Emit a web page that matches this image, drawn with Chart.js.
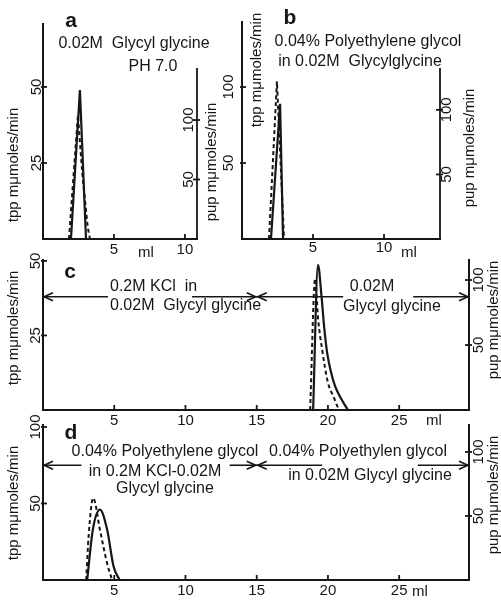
<!DOCTYPE html>
<html>
<head>
<meta charset="utf-8">
<script src="https://cdn.jsdelivr.net/npm/chart.js@4.4.0/dist/chart.umd.min.js"></script>
<style>
  html, body { margin: 0; padding: 0; background: #fff; }
  #wrap { position: relative; width: 501px; height: 601px; }
  #wrap canvas { position: absolute; left: 0; top: 0; }
</style>
</head>
<body>
<div id="wrap">
  <canvas id="pa" width="501" height="601"></canvas>
  <canvas id="pb" width="501" height="601"></canvas>
  <canvas id="pc" width="501" height="601"></canvas>
  <canvas id="pd" width="501" height="601"></canvas>
</div>
<script>
// a: 0.02M glycyl glycine, pH 7.0
const aTppMl = [1.97, 2.6, 3.03]
const aTpp = [0, 49, 0]
const aPupMl = [1.83, 2.46, 2.77, 3.15, 3.31]
const aPup = [0, 104, 55, 10, 0]
const aXTicks = [5, 10]
const aLeftTicks = [25, 50]
const aRightTicks = [50, 100]

// b: 0.04% polyethylene glycol in 0.02M glycyl glycine
const bTppMl = [2.04, 2.68, 2.89]
const bTpp = [0, 89, 0]
const bPupMl = [1.9, 2.46, 2.96]
const bPup = [0, 122, 0]
const bXTicks = [5, 10]
const bLeftTicks = [50, 100]
const bRightTicks = [50, 100]

// c: 0.2M KCl -> 0.02M glycyl glycine
const cTppMl = [18.96, 19.3, 19.55, 19.75, 19.95, 20.2, 20.5, 20.9, 21.4]
const cTpp = [0, 48.7, 38, 27, 19, 13, 8, 4, 0]
const cPupMl = [18.75, 19.1, 19.3, 19.6, 20.0, 20.4, 20.7, 20.85]
const cPup = [0, 101, 71, 46, 21, 10, 2, 0]
const cXTicks = [5, 10, 15, 20, 25]
const cLeftTicks = [25, 50]
const cRightTicks = [50, 100]

// d: polyethylene glycol in KCl -> in glycyl glycine
const dTppMl = [3.1, 3.5, 4.0, 4.5, 4.95, 5.37]
const dTpp = [0, 33, 46, 33, 9, 0]
const dPupMl = [3.03, 3.2, 3.52, 4.0, 4.5, 4.85]
const dPup = [0, 34, 64, 39, 13, 0]
const dXTicks = [5, 10, 15, 20, 25]
const dLeftTicks = [50, 100]
const dRightTicks = [50, 100]

const INK = "#161616"
const FONT = "'Liberation Sans', Arial, sans-serif"

const panels = [
  {
    id: "pa", area: { l: 43, r: 197, t: 24, b: 239 }, xMax: 10.85, lMax: 70.7, rMax: 180.7, rTop: 68,
    tppMl: aTppMl, tpp: aTpp, pupMl: aPupMl, pup: aPup, smooth: false,
    xTicks: aXTicks, lTicks: aLeftTicks, rTicks: aRightTicks,
    xLabY: 250, lLabX: 37, rLabX: 189,
    lTitle: [14, 165], rTitle: [212, 162], ml: [146, 253],
    texts: [
      { t: "a", x: 71, y: 21, f: "bold 21px" },
      { t: "0.02M  Glycyl glycine", x: 134, y: 44 },
      { t: "PH 7.0", x: 153, y: 67 },
    ],
  },
  {
    id: "pb", area: { l: 242, r: 440, t: 22, b: 239 }, xMax: 13.94, lMax: 142.8, rMax: 168, rTop: 68,
    tppMl: bTppMl, tpp: bTpp, pupMl: bPupMl, pup: bPup, smooth: false,
    xTicks: bXTicks, lTicks: bLeftTicks, rTicks: bRightTicks,
    xLabY: 248, lLabX: 229, rLabX: 447,
    lTitle: [257, 70], rTitle: [470, 148], ml: [409, 253],
    texts: [
      { t: "b", x: 290, y: 18, f: "bold 21px" },
      { t: "0.04% Polyethylene glycol", x: 368, y: 42 },
      { t: "in 0.02M  Glycylglycine", x: 360, y: 62 },
    ],
  },
  {
    id: "pc", area: { l: 43, r: 469, t: 260, b: 410 }, xMax: 29.9, lMax: 50.3, rMax: 115.4, rTop: null,
    tppMl: cTppMl, tpp: cTpp, pupMl: cPupMl, pup: cPup, smooth: true,
    xTicks: cXTicks, lTicks: cLeftTicks, rTicks: cRightTicks,
    xLabY: 421, lLabX: 36, rLabX: 479,
    lTitle: [14, 328], rTitle: [494, 320], ml: [434, 421],
    texts: [
      { t: "c", x: 70, y: 272, f: "bold 21px" },
      { t: "0.2M KCl  in", x: 110, y: 287, a: "left" },
      { t: "0.02M  Glycyl glycine", x: 110, y: 306, a: "left" },
      { t: "0.02M", x: 372, y: 287 },
      { t: "Glycyl glycine", x: 392, y: 307 },
    ],
    arrow: { v: 38, segs: [[0, 4.56], [10.46, 15], [15, 21.07], [25.98, 29.9]] },
  },
  {
    id: "pd", area: { l: 43, r: 469, t: 425, b: 580 }, xMax: 29.9, lMax: 101.3, rMax: 121, rTop: null,
    tppMl: dTppMl, tpp: dTpp, pupMl: dPupMl, pup: dPup, smooth: true,
    xTicks: dXTicks, lTicks: dLeftTicks, rTicks: dRightTicks,
    xLabY: 591, lLabX: 36, rLabX: 479,
    lTitle: [14, 503], rTitle: [494, 495], ml: [420, 592],
    texts: [
      { t: "d", x: 71, y: 433, f: "bold 21px" },
      { t: "0.04% Polyethylene glycol", x: 165, y: 452 },
      { t: "in 0.2M KCl-0.02M", x: 155, y: 472 },
      { t: "Glycyl glycine", x: 165, y: 489 },
      { t: "0.04% Polyethylen glycol", x: 358, y: 452 },
      { t: "in 0.02M Glycyl glycine", x: 370, y: 476 },
    ],
    arrow: { v: 75, segs: [[0, 2.7], [13.1, 15], [15, 19.6], [26.3, 29.9]] },
  },
]

function toPoints(xs, ys) {
  return xs.map((x, i) => ({ x: x, y: ys[i] }))
}

function seg(ctx, x1, y1, x2, y2) {
  ctx.beginPath()
  ctx.moveTo(x1, y1)
  ctx.lineTo(x2, y2)
  ctx.stroke()
}

function upText(ctx, text, cx, cy) {
  ctx.save()
  ctx.translate(cx, cy)
  ctx.rotate(-Math.PI / 2)
  ctx.textAlign = "center"
  ctx.textBaseline = "middle"
  ctx.fillText(text, 0, 0)
  ctx.restore()
}

function arrowHead(ctx, x, y, dir) {
  ctx.beginPath()
  ctx.moveTo(x - dir * 9, y - 4)
  ctx.lineTo(x, y)
  ctx.lineTo(x - dir * 9, y + 4)
  ctx.stroke()
}

// axis ticks, rotated labels, titles and the notes
function notesPlugin(p) {
  return {
    id: "notes",
    afterDraw(chart) {
      const { ctx, chartArea } = chart
      const sx = chart.scales.x, sl = chart.scales.yL, sr = chart.scales.yR
      ctx.save()
      ctx.strokeStyle = INK
      ctx.fillStyle = INK
      ctx.lineWidth = 1.8

      if (p.rTop != null) seg(ctx, chartArea.right, chartArea.bottom + 1, chartArea.right, p.rTop)

      ctx.font = "15px " + FONT
      ctx.textAlign = "center"
      ctx.textBaseline = "middle"
      p.xTicks.forEach((v) => {
        const px = sx.getPixelForValue(v)
        seg(ctx, px, chartArea.bottom, px, chartArea.bottom - 5)
        ctx.fillText(String(v), px, p.xLabY)
      })
      p.lTicks.forEach((v) => {
        const py = sl.getPixelForValue(v)
        seg(ctx, chartArea.left - 2, py, chartArea.left + 4, py)
        upText(ctx, String(v), p.lLabX, py)
      })
      p.rTicks.forEach((v) => {
        const py = sr.getPixelForValue(v)
        seg(ctx, chartArea.right - 4, py, chartArea.right + 3, py)
        upText(ctx, String(v), p.rLabX, py)
      })

      upText(ctx, "tpp mμmoles/min", p.lTitle[0], p.lTitle[1])
      upText(ctx, "pup mμmoles/min", p.rTitle[0], p.rTitle[1])
      ctx.fillText("ml", p.ml[0], p.ml[1])

      p.texts.forEach((t) => {
        ctx.font = (t.f || "16px") + " " + FONT
        ctx.textAlign = t.a || "center"
        ctx.fillText(t.t, t.x, t.y)
      })

      if (p.arrow) {
        const y = sl.getPixelForValue(p.arrow.v)
        ctx.lineWidth = 1.6
        p.arrow.segs.forEach((s) => seg(ctx, sx.getPixelForValue(s[0]), y, sx.getPixelForValue(s[1]), y))
        arrowHead(ctx, sx.getPixelForValue(0) + 1, y, -1)
        arrowHead(ctx, sx.getPixelForValue(15) - 1, y, 1)
        arrowHead(ctx, sx.getPixelForValue(15) + 1, y, -1)
        arrowHead(ctx, sx.getPixelForValue(p.xMax) - 1, y, 1)
      }
      ctx.restore()
    },
  }
}

function buildPanel(p) {
  const zeroFit = (s) => {
    if (s.isHorizontal()) s.height = 0
    else s.width = 0
  }
  const axis = (extra) => Object.assign({
    grid: { display: false },
    ticks: { display: false },
    border: { color: INK, width: 2 },
    afterFit: zeroFit,
  }, extra)
  const curve = p.smooth ? { cubicInterpolationMode: "monotone" } : { tension: 0 }

  new Chart(document.getElementById(p.id), {
    type: "line",
    data: {
      datasets: [
        Object.assign({
          label: "tpp",
          data: toPoints(p.tppMl, p.tpp),
          yAxisID: "yL",
          borderColor: INK,
          borderWidth: 2.2,
          pointRadius: 0,
          fill: false,
        }, curve),
        Object.assign({
          label: "pup",
          data: toPoints(p.pupMl, p.pup),
          yAxisID: "yR",
          borderColor: INK,
          borderWidth: 2,
          borderDash: [4, 3],
          pointRadius: 0,
          fill: false,
        }, curve),
      ],
    },
    options: {
      responsive: false,
      animation: false,
      events: [],
      layout: { padding: { left: p.area.l, right: 501 - p.area.r, top: p.area.t, bottom: 601 - p.area.b } },
      plugins: { legend: { display: false }, tooltip: { enabled: false } },
      scales: {
        x: axis({ type: "linear", min: 0, max: p.xMax }),
        yL: axis({ position: "left", min: 0, max: p.lMax }),
        yR: axis({ position: "right", min: 0, max: p.rMax, border: { display: p.rTop == null, color: INK, width: 2 } }),
      },
    },
    plugins: [notesPlugin(p)],
  })
}

panels.forEach(buildPanel)
</script>
</body>
</html>
